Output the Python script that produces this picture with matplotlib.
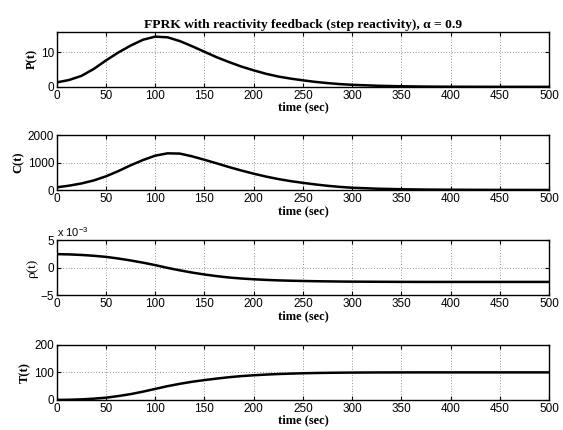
import matplotlib
matplotlib.use("Agg")
import matplotlib.pyplot as plt

t = [0, 12.5, 25, 37.5, 50, 62.5, 75, 87.5, 100, 112.5, 125, 137.5, 150, 162.5, 175, 187.5,
     200, 212.5, 225, 237.5, 250, 262.5, 275, 287.5, 300, 325, 350, 375, 400, 450, 500]
P = [1.3, 2.0, 3.2, 5.2, 7.7, 10.0, 12.0, 13.7, 14.6, 14.4, 13.3, 11.8, 10.2, 8.6, 7.2, 5.9,
     4.8, 3.8, 3.0, 2.4, 1.9, 1.45, 1.1, 0.8, 0.6, 0.33, 0.17, 0.08, 0.04, 0.01, 0.0]
C = [100, 160, 240, 350, 500, 690, 900, 1090, 1250, 1335, 1325, 1225, 1100, 970, 835, 710,
     595, 490, 400, 325, 262, 205, 155, 115, 85, 50, 30, 18, 12, 6, 3]
rho = [2.5, 2.45, 2.35, 2.2, 2.0, 1.7, 1.35, 0.95, 0.5, 0.0, -0.45, -0.85, -1.2, -1.5, -1.75,
       -1.93, -2.07, -2.18, -2.27, -2.33, -2.38, -2.42, -2.45, -2.48, -2.5, -2.52, -2.54,
       -2.55, -2.55, -2.55, -2.55]
T = [0, 0.5, 2, 4.5, 8, 14, 21, 30, 40, 50, 58.5, 66, 72, 77.5, 82.5, 86.5, 89.5, 92, 94,
     95.5, 96.8, 97.7, 98.4, 98.9, 99.3, 99.7, 99.9, 100, 100, 100, 100]

series = [P, C, rho, T]
ylabels = ["P(t)", "C(t)", "\u03c1(t)", "T(t)"]
ylims = [(0, 16), (0, 2000), (-5, 5), (0, 200)]
yticks = [[0, 10], [0, 1000, 2000], [-5, 0, 5], [0, 100, 200]]
xticks = list(range(0, 501, 50))

plt.rcParams["font.family"] = "Liberation Sans"
plt.rcParams["mathtext.fontset"] = "custom"
plt.rcParams["mathtext.rm"] = "Liberation Sans"

fig = plt.figure(figsize=(5.63, 4.30), dpi=100)
bottoms = [0.798, 0.558, 0.313, 0.070]
serif = {"family": "Liberation Serif", "weight": "bold", "size": 9}

for i in range(4):
    ax = fig.add_axes([0.101, bottoms[i], 0.874, 0.128])
    ax.plot(t, series[i], color="black", lw=1.8)
    ax.set_xlim(0, 500)
    ax.set_ylim(*ylims[i])
    ax.set_xticks(xticks)
    ax.set_yticks(yticks[i])
    ax.tick_params(direction="in", top=True, right=True, labelsize=8.5, pad=2, length=3)
    ax.grid(True, color="#333333", linestyle=(0, (1, 3)), lw=0.5)
    for s in ax.spines.values():
        s.set_linewidth(1.0)
    ax.set_xlabel("time (sec)", fontdict=serif, labelpad=0)
    if i == 2:
        ax.set_ylabel(ylabels[i], family="Liberation Serif", fontsize=9.5, labelpad=2)
        ax.text(0, 1.02, r"x 10$^{-3}$", transform=ax.transAxes, fontsize=8, va="bottom")
    else:
        ax.set_ylabel(ylabels[i], fontdict=serif, labelpad=2)
    if i == 0:
        ax.set_title("FPRK with reactivity feedback (step reactivity), \u03b1 = 0.9",
                     family="Liberation Serif", weight="bold", size=9.7, pad=3)

fig.savefig("out.png", dpi=100)
